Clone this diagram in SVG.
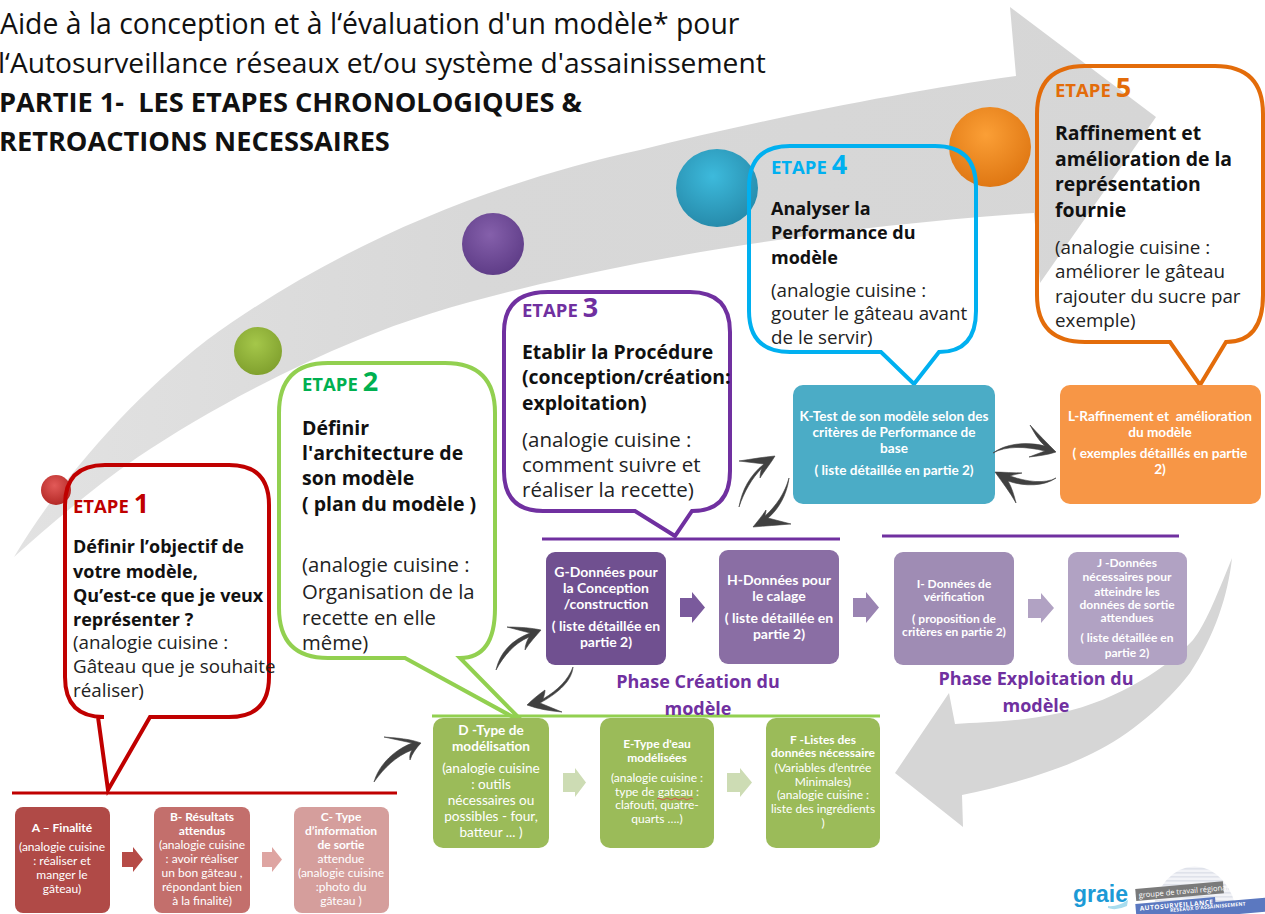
<svg xmlns="http://www.w3.org/2000/svg" width="1265" height="914" viewBox="0 0 1265 914">
<defs>
<linearGradient id="sw" x1="0" y1="0" x2="1" y2="0"><stop offset="0" stop-color="#e2e2e2"/><stop offset="0.4" stop-color="#d8d8d8"/><stop offset="1" stop-color="#d6d6d6"/></linearGradient>
<radialGradient id="b1" cx="0.45" cy="0.35" r="0.7"><stop offset="0" stop-color="#e25a58"/><stop offset="1" stop-color="#b02522"/></radialGradient>
<radialGradient id="b2" cx="0.45" cy="0.35" r="0.7"><stop offset="0" stop-color="#a5c74a"/><stop offset="1" stop-color="#7e9e2c"/></radialGradient>
<radialGradient id="b3" cx="0.45" cy="0.35" r="0.7"><stop offset="0" stop-color="#8560ab"/><stop offset="1" stop-color="#5c3a85"/></radialGradient>
<radialGradient id="b4" cx="0.45" cy="0.35" r="0.7"><stop offset="0" stop-color="#3dbadc"/><stop offset="1" stop-color="#2588a8"/></radialGradient>
<radialGradient id="b5" cx="0.45" cy="0.35" r="0.7"><stop offset="0" stop-color="#fb9f36"/><stop offset="1" stop-color="#dd7410"/></radialGradient>
<pattern id="stripes" width="6" height="4" patternUnits="userSpaceOnUse"><rect width="6" height="4" fill="#f2f3f7"/><rect width="6" height="1.6" fill="#dfe2ea"/></pattern>
</defs>
<style>
text{font-family:"Open Sans","Liberation Sans",sans-serif}
.t{font-size:28.4px;fill:#111}
.tb{font-size:27.2px;font-weight:700;fill:#111}
.c{font-size:18.8px;fill:#222}
.cb{font-size:18px;font-weight:700;fill:#111}
.e2 .c{font-size:20.3px}.e2 .cb{font-size:19.5px}
.e3 .c{font-size:20.5px}.e3 .cb{font-size:19.4px}
.e5 .cb{font-size:19.4px}
.e{font-size:18.5px;font-weight:700}
.n{font-size:27px;font-weight:700}
.bub{fill:none;stroke-width:4;stroke-linejoin:miter}
.b{font-family:Lato,"Liberation Sans",sans-serif;fill:#fff;text-anchor:middle;font-size:12px}
.bb{font-weight:700}
.ph{font-size:18px;font-weight:700;fill:#7030a0;text-anchor:middle}
.cv{fill:#404040;stroke:#404040;stroke-width:.6;stroke-linejoin:round}
.rule{stroke-width:3;fill:none}
</style>
<g id="background">
<path d="M14 557C60 480 130 400 207 340C330 250 480 185 640 150C760 120 900 92 1016 76L1010 7L1156 117L1040 283L1034 213C900 222 760 240 640 263C540 283 440 305 358 340C280 372 200 415 138 457C90 490 50 525 14 557Z" fill="url(#sw)"/>
<path d="M1232 558C1215 600 1205 625 1193 640C1170 665 1120 700 1060 713C1020 722 985 722 955 724L949 693L895 773L963 827L962 795C1010 785 1060 770 1093 753C1130 735 1165 705 1190 673C1215 635 1228 595 1232 558Z" fill="#d6d6d6"/>
</g>
<g id="spheres">
<circle cx="56" cy="490" r="15" fill="url(#b1)"/>
<circle cx="258" cy="351" r="24" fill="url(#b2)"/>
<circle cx="493" cy="244" r="31" fill="url(#b3)"/>
<ellipse cx="717" cy="188" rx="41" ry="39" fill="url(#b4)"/>
<ellipse cx="990" cy="147" rx="41" ry="40" fill="url(#b5)"/>
</g>
<g id="title">
<text class="t" x="0" y="34">Aide à la conception et à l‘évaluation d'un modèle* pour</text>
<text class="t" x="-2" y="73" style="font-size:28.2px">l‘Autosurveillance réseaux et/ou système d'assainissement</text>
<text class="tb" x="-1" y="112" xml:space="preserve">PARTIE 1-  LES ETAPES CHRONOLOGIQUES &amp;</text>
<text class="tb" x="-1" y="151">RETROACTIONS NECESSAIRES</text>
</g>
<g id="rules">
<path class="rule" stroke="#c00000" d="M12 793H397"/>
<path class="rule" stroke="#92d050" d="M432 716H880"/>
<path class="rule" stroke="#7030a0" d="M542 539H840M882 536H1179"/>
</g>
<g id="etape1">
<path class="bub" stroke="#c00000" d="M105 465H229Q269 465 269 505V677Q269 717 229 717H150L108 790L98 717H104Q65 717 65 677V505Q65 465 105 465Z"/>
<text x="73" y="513"><tspan class="e" fill="#c00000">ETAPE </tspan><tspan class="n" fill="#c00000">1</tspan></text>
<text class="cb" x="73" y="553">Définir l’objectif de</text>
<text class="cb" x="73" y="578">votre modèle,</text>
<text class="cb" x="73" y="602">Qu’est-ce que je veux</text>
<text class="cb" x="73" y="626">représenter ?</text>
<text class="c" x="73" y="649">(analogie cuisine :</text>
<text class="c" x="73" y="673">Gâteau que je souhaite</text>
<text class="c" x="73" y="697">réaliser)</text>
</g>
<g id="etape2" class="e2">
<path class="bub" stroke="#92d050" d="M328 363H445Q495 363 495 413V608Q495 658 460 658L524 723L405 658H328Q279 658 279 608V413Q279 363 328 363Z"/>
<text x="302" y="391"><tspan class="e" fill="#00b050">ETAPE </tspan><tspan class="n" fill="#00b050">2</tspan></text>
<text class="cb" x="302" y="435">Définir</text>
<text class="cb" x="302" y="460">l'architecture de</text>
<text class="cb" x="302" y="485">son modèle</text>
<text class="cb" x="302" y="511">( plan du modèle )</text>
<text class="c" x="302" y="572">(analogie cuisine :</text>
<text class="c" x="302" y="599">Organisation de la</text>
<text class="c" x="302" y="625">recette en elle</text>
<text class="c" x="302" y="650">même)</text>
</g>
<g id="etape3" class="e3">
<path class="bub" stroke="#7030a0" d="M548 292H690Q730 292 730 332V471Q730 511 692 511L675 536L635 511H543Q504 511 504 471V332Q504 292 548 292Z"/>
<text x="522" y="317"><tspan class="e" fill="#7030a0">ETAPE </tspan><tspan class="n" fill="#7030a0">3</tspan></text>
<text class="cb" x="522" y="359">Etablir la Procédure</text>
<text class="cb" x="522" y="384">(conception/création:</text>
<text class="cb" x="522" y="410">exploitation)</text>
<text class="c" x="522" y="447">(analogie cuisine :</text>
<text class="c" x="522" y="472">comment suivre et</text>
<text class="c" x="522" y="497">réaliser la recette)</text>
</g>
<g id="etape4">
<path class="bub" stroke="#00b0f0" d="M790 146H935Q976 146 976 187V311Q976 352 939 352L914 384L881 352H790Q749 352 749 311V187Q749 146 790 146Z"/>
<text x="771" y="174"><tspan class="e" fill="#00b0f0">ETAPE </tspan><tspan class="n" fill="#00b0f0">4</tspan></text>
<text class="cb" x="771" y="215">Analyser la</text>
<text class="cb" x="771" y="239">Performance du</text>
<text class="cb" x="771" y="264">modèle</text>
<text class="c" x="771" y="297">(analogie cuisine :</text>
<text class="c" x="771" y="320">gouter le gâteau avant</text>
<text class="c" x="771" y="344">de le servir)</text>
</g>
<g id="etape5" class="e5">
<path class="bub" stroke="#e36c0a" d="M1085 66H1215Q1263 66 1263 114V295Q1263 342 1226 342L1200 385L1170 342H1085Q1037 342 1037 295V114Q1037 66 1085 66Z"/>
<text x="1055" y="97"><tspan class="e" fill="#e36c0a">ETAPE </tspan><tspan class="n" fill="#e36c0a">5</tspan></text>
<text class="cb" x="1055" y="140">Raffinement et</text>
<text class="cb" x="1055" y="166">amélioration de la</text>
<text class="cb" x="1055" y="191">représentation</text>
<text class="cb" x="1055" y="217">fournie</text>
<text class="c" x="1055" y="254">(analogie cuisine :</text>
<text class="c" x="1055" y="278">améliorer le gâteau</text>
<text class="c" x="1055" y="303">rajouter du sucre par</text>
<text class="c" x="1055" y="327">exemple)</text>
</g>
<g id="node-a"><rect x="15" y="807" width="95" height="106" rx="8" fill="#b04a47"/>
<text class="b" x="62" y="832"><tspan class="bb">A – Finalité</tspan><tspan x="62" dy="19">(analogie cuisine</tspan><tspan x="62" dy="14">: réaliser et</tspan><tspan x="62" dy="14">manger le</tspan><tspan x="62" dy="14">gâteau)</tspan></text></g>
<g id="node-b"><rect x="154" y="807" width="96" height="106" rx="8" fill="#c36f6c"/>
<text class="b" x="202" y="821"><tspan class="bb">B- Résultats</tspan><tspan class="bb" x="202" dy="14">attendus</tspan><tspan x="202" dy="14">(analogie cuisine</tspan><tspan x="202" dy="14">: avoir réaliser</tspan><tspan x="202" dy="14">un bon gâteau ,</tspan><tspan x="202" dy="14">répondant bien</tspan><tspan x="202" dy="14">à la finalité)</tspan></text></g>
<g id="node-c"><rect x="294" y="807" width="95" height="106" rx="8" fill="#d59e9c"/>
<text class="b" x="341" y="821"><tspan class="bb">C- Type</tspan><tspan class="bb" x="341" dy="14">d’information</tspan><tspan class="bb" x="341" dy="14">de sortie</tspan><tspan x="341" dy="14">attendue</tspan><tspan x="341" dy="14">(analogie cuisine</tspan><tspan x="341" dy="14">:photo du</tspan><tspan x="341" dy="14">gâteau )</tspan></text></g>
<g id="node-d"><rect x="433" y="718" width="116" height="130" rx="10" fill="#9bbb59"/>
<text class="b" style="font-size:13.6px" x="491" y="735"><tspan class="bb">D -Type de</tspan><tspan class="bb" x="491" dy="16">modélisation</tspan><tspan x="491" dy="22">(analogie cuisine</tspan><tspan x="491" dy="16">: outils</tspan><tspan x="491" dy="16">nécessaires ou</tspan><tspan x="491" dy="16">possibles - four,</tspan><tspan x="491" dy="16">batteur ... )</tspan></text></g>
<g id="node-e"><rect x="600" y="718" width="114" height="130" rx="10" fill="#9bbb59"/>
<text class="b" x="657" y="748"><tspan class="bb">E-Type d'eau</tspan><tspan class="bb" x="657" dy="14">modélisées</tspan><tspan x="657" dy="20">(analogie cuisine :</tspan><tspan x="657" dy="14">type de gateau :</tspan><tspan x="657" dy="13">clafouti, quatre-</tspan><tspan x="657" dy="14">quarts ….)</tspan></text>
<path d="M657 799q2 -2 4 0t4 0t4 0t4 0t4 0t4 0t4 0t4 0t4 0" fill="none" stroke="#d9534f" stroke-width="1"/></g>
<g id="node-f"><rect x="766" y="718" width="114" height="130" rx="10" fill="#9bbb59"/>
<text class="b" x="823" y="744"><tspan class="bb">F -Listes des</tspan><tspan class="bb" x="823" dy="13">données nécessaire</tspan><tspan x="823" dy="15">(Variables d’entrée</tspan><tspan x="823" dy="14">Minimales)</tspan><tspan x="823" dy="13">(analogie cuisine :</tspan><tspan x="823" dy="14">liste des ingrédients</tspan><tspan x="823" dy="14">)</tspan></text></g>
<g id="node-g"><rect x="546" y="552" width="120" height="113" rx="9" fill="#705090"/>
<text class="b" style="font-size:14px" x="606" y="577"><tspan class="bb">G-Données pour</tspan><tspan class="bb" x="606" dy="16">la Conception</tspan><tspan class="bb" x="606" dy="16">/construction</tspan><tspan class="bb" x="606" dy="22">( liste détaillée en</tspan><tspan class="bb" x="606" dy="16">partie 2)</tspan></text></g>
<g id="node-h"><rect x="719" y="550" width="120" height="114" rx="9" fill="#8a6ea4"/>
<text class="b" style="font-size:14px" x="779" y="585"><tspan class="bb">H-Données pour</tspan><tspan class="bb" x="779" dy="16">le calage</tspan><tspan class="bb" x="779" dy="22">( liste détaillée en</tspan><tspan class="bb" x="779" dy="16">partie 2)</tspan></text></g>
<g id="node-i"><rect x="894" y="552" width="120" height="113" rx="9" fill="#9f8cb4"/>
<text class="b" x="954" y="588"><tspan class="bb">I- Données de</tspan><tspan class="bb" x="954" dy="13">vérification</tspan><tspan class="bb" x="954" dy="22">( proposition de</tspan><tspan class="bb" x="954" dy="13">critères en partie 2)</tspan></text></g>
<g id="node-j"><rect x="1068" y="552" width="119" height="113" rx="9" fill="#b1a2c3"/>
<text class="b" x="1127" y="567"><tspan class="bb">J -Données</tspan><tspan class="bb" x="1127" dy="14">nécessaires pour</tspan><tspan class="bb" x="1127" dy="15">atteindre les</tspan><tspan class="bb" x="1127" dy="13">données de sortie</tspan><tspan class="bb" x="1127" dy="13">attendues</tspan><tspan class="bb" x="1127" dy="20">( liste détaillée en</tspan><tspan class="bb" x="1127" dy="15">partie 2)</tspan></text></g>
<g id="node-k"><rect x="793" y="385" width="202" height="119" rx="10" fill="#4bacc6"/>
<text class="b" style="font-size:13.6px" x="894" y="421"><tspan class="bb">K-Test de son modèle selon des</tspan><tspan class="bb" x="894" dy="16">critères de Performance de</tspan><tspan class="bb" x="894" dy="16">base</tspan><tspan class="bb" x="894" dy="22">( liste détaillée en partie 2)</tspan></text></g>
<g id="node-l"><rect x="1060" y="385" width="201" height="119" rx="10" fill="#f79646"/>
<text class="b" style="font-size:13.6px" x="1160" y="421" xml:space="preserve"><tspan class="bb">L-Raffinement et  amélioration</tspan><tspan class="bb" x="1160" dy="16">du modèle</tspan><tspan class="bb" x="1160" dy="21">( exemples détaillés en partie</tspan><tspan class="bb" x="1160" dy="16">2)</tspan></text></g>
<g id="phases">
<text class="ph" x="698" y="688">Phase Création du</text><text class="ph" x="698" y="715">modèle</text>
<text class="ph" x="1036" y="685">Phase Exploitation du</text><text class="ph" x="1036" y="712">modèle</text>
</g>
<g id="connectors">
<path fill="#b64b47" d="M122 852h11v-5l10 12.500-10 12.500v-5h-11z"/>
<path fill="#dea5a2" d="M262 852h10v-5l10 12.500-10 12.500v-5h-10z"/>
<path fill="#cddcb4" d="M563 773h12v-5l11 14.500-11 14.500v-5h-12z"/>
<path fill="#cddcb4" d="M727 773h13v-5l12 14.500-12 14.500v-5h-13z"/>
<path fill="#7a5a9c" d="M680 598h12v-6l13 15.500-13 15.500v-6h-12z"/>
<path fill="#9a84b2" d="M853 598h13v-6l13 15.500-13 15.500v-6h-13z"/>
<path fill="#b1a2c3" d="M1028 599h13v-6l13 15-13 15v-5h-13z"/>
<path class="cv" d="M374 782C378 768 390 752 412 743L384 737C398 738 410 739 421 743C416 748 412 754 410 760C409 755 411 752 412 750C396 756 384 768 374 782Z"/>
<path class="cv" d="M496 670C500 652 512 640 530 633L507 627C520 627 532 628 541 630C536 636 530 642 525 650C525 645 527 641 529 637C515 643 504 655 496 670Z"/>
<path class="cv" d="M573 667C572 680 560 692 540 703L562 712C550 711 538 709 527 705C532 700 538 695 545 690C545 693 544 696 543 699C558 690 568 680 573 667Z"/>
<path class="cv" d="M739 507C742 490 750 475 764 464L739 461C752 459 764 457 775 456C771 463 765 470 760 478C760 474 761 470 762 468C752 478 744 492 739 507Z"/>
<path class="cv" d="M789 478C787 495 778 510 768 518L791 524C778 525 765 526 753 527C757 522 762 516 766 510C766 513 765 515 765 516C776 506 785 493 789 478Z"/>
<path class="cv" d="M993 453C1005 444 1025 441 1045 446C1038 440 1034 432 1030 425C1038 434 1047 443 1056 452C1047 455 1038 456 1029 457C1034 455 1040 453 1045 451C1025 446 1005 446 993 453Z"/>
<path class="cv" d="M1056 478C1045 486 1025 487 1008 481C1012 488 1014 495 1016 503C1010 492 1002 482 995 472C1004 472 1013 473 1022 473C1017 474 1013 475 1010 476C1027 482 1045 484 1056 478Z"/>
</g>
<g id="logo">
<path d="M1152 914A43 56 0 0 1 1237 914Z" fill="url(#stripes)"/>
<text x="1073" y="902" style="font-family:'Liberation Sans',sans-serif;font-size:23px;font-weight:700;fill:#1c9ad6">graie</text>
<path d="M1108 906Q1118 907 1128 900L1127 906Q1116 911 1108 908Z" fill="#a8dcee"/>
<g transform="rotate(-5 1136 898)"><rect x="1136" y="889" width="88" height="12" fill="#7a7a7a"/><text x="1139" y="898" style="font-size:7.500px;fill:#fff">groupe de travail régional</text></g>
<g transform="rotate(-5 1136 912)"><path d="M1136 904h80v5h50v14h-130z" fill="#5b78c0"/><text x="1140" y="911" style="font-size:6.500px;font-weight:700;fill:#fff;letter-spacing:.5px">AUTOSURVEILLANCE</text><text x="1170" y="915" style="font-size:5px;font-weight:700;fill:#fff;letter-spacing:.2px">RÉSEAUX D'ASSAINISSEMENT</text></g>
</g>
</svg>
